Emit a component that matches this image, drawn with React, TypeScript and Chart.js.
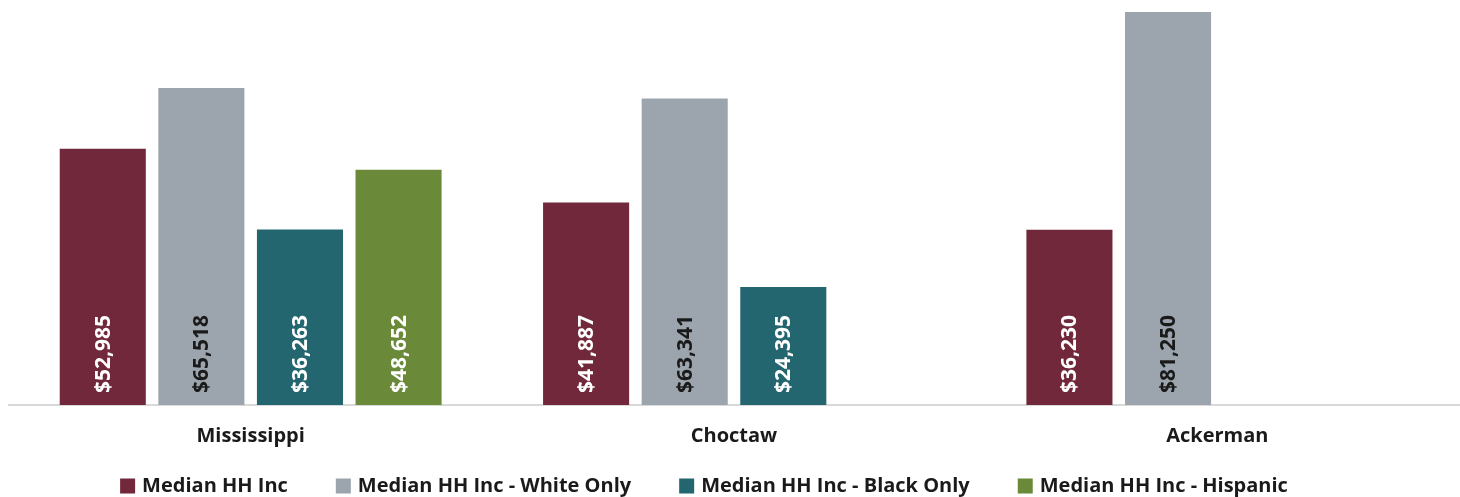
import React, { useEffect, useRef } from "react";
import { Chart, registerables } from "chart.js";

Chart.register(...registerables);

const categories = ["Mississippi", "Choctaw", "Ackerman"];
const seriesNames = [
  "Median HH Inc",
  "Median HH Inc - White Only",
  "Median HH Inc - Black Only",
  "Median HH Inc - Hispanic",
];
const medianAll = [52985, 41887, 36230];
const medianWhite = [65518, 63341, 81250];
const medianBlack = [36263, 24395, null];
const medianHispanic = [48652, null, null];
const colors = ["#72283b", "#9ca5ae", "#24666f", "#6a8a3a"];
const labelColors = ["#ffffff", "#1a1a1a", "#ffffff", "#ffffff"];

const FONT = "'Open Sans', 'Liberation Sans', sans-serif";

const valueLabels = {
  id: "valueLabels",
  afterDatasetsDraw(chart: any) {
    const ctx = chart.ctx;
    chart.data.datasets.forEach((ds: any, di: number) => {
      const meta = chart.getDatasetMeta(di);
      if (meta.hidden) return;
      meta.data.forEach((bar: any, i: number) => {
        const v = ds.data[i];
        if (v === null || v === undefined) return;
        const text = "$" + Number(v).toLocaleString("en-US");
        ctx.save();
        ctx.translate(bar.x, bar.base - 12);
        ctx.rotate(-Math.PI / 2);
        ctx.font = `bold 21px ${FONT}`;
        ctx.fillStyle = labelColors[di];
        ctx.textAlign = "left";
        ctx.textBaseline = "middle";
        ctx.fillText(text, 0, 1);
        ctx.restore();
      });
    });
  },
};

const customLegend = {
  id: "customLegend",
  afterDraw(chart: any) {
    const ctx = chart.ctx;
    const box = 15;
    const textGap = 7;
    const itemGap = 48;
    const cy = 486;
    ctx.save();
    ctx.font = `bold 20px ${FONT}`;
    const items = chart.data.datasets.map((ds: any, i: number) => {
      const w = ctx.measureText(ds.label).width;
      return { label: ds.label, color: colors[i], w: box + textGap + w };
    });
    const total = items.reduce((s: number, it: any) => s + it.w, 0) + itemGap * (items.length - 1);
    let x = 704 - total / 2;
    items.forEach((it: any) => {
      ctx.fillStyle = it.color;
      ctx.fillRect(x, cy - box / 2, box, box);
      ctx.fillStyle = "#1a1a1a";
      ctx.textAlign = "left";
      ctx.textBaseline = "middle";
      ctx.fillText(it.label, x + box + textGap, cy);
      x += it.w + itemGap;
    });
    ctx.restore();
  },
};

export default function App() {
  const ref = useRef<HTMLCanvasElement | null>(null);
  useEffect(() => {
    if (!ref.current) return;
    const data = [medianAll, medianWhite, medianBlack, medianHispanic];
    const chart = new Chart(ref.current, {
      type: "bar",
      data: {
        labels: categories,
        datasets: seriesNames.map((name, i) => ({
          label: name,
          data: data[i],
          backgroundColor: colors[i],
          borderWidth: 0,
          categoryPercentage: 0.816,
          barPercentage: 0.873,
        })),
      },
      options: {
        animation: false,
        responsive: true,
        maintainAspectRatio: false,
        layout: { padding: { left: 9, right: 1, top: 12, bottom: 30 } },
        plugins: {
          legend: { display: false },
          tooltip: { enabled: false },
        },
        scales: {
          x: {
            grid: { display: false, drawTicks: false },
            border: { display: true, color: "#d9d9d9", width: 2 },
            ticks: {
              padding: 19,
              color: "#1a1a1a",
              font: { family: FONT, size: 20, weight: "bold" },
            },
          },
          y: {
            display: false,
            min: 0,
            max: 81250,
          },
        },
      },
      plugins: [valueLabels, customLegend],
    });
    return () => chart.destroy();
  }, []);
  return (
    <div style={{ position: "fixed", left: 0, top: 0, width: 1460, height: 497, background: "#fff" }}>
      <canvas ref={ref} />
    </div>
  );
}
